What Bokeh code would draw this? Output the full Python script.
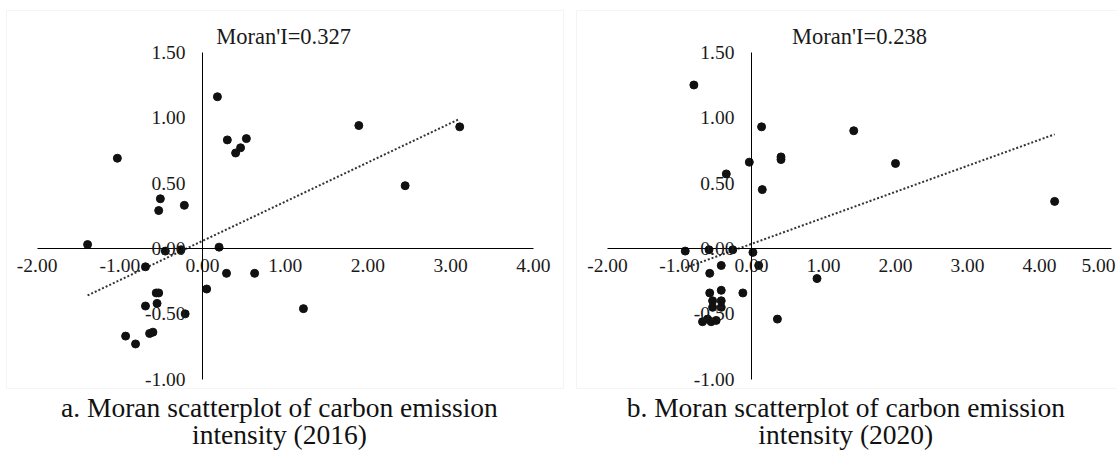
import numpy as np
from bokeh.plotting import figure
from bokeh.models import FixedTicker, PrintfTickFormatter, Label, Range1d, BoxAnnotation
from bokeh.layouts import row
from bokeh.embed import file_html
from bokeh.resources import INLINE

# ---------------- data ----------------
x_2016 = [0.18, 1.89, 3.11, 0.30, 0.53, 0.46, 0.40, -1.03, 2.45, -0.51,
          -0.53, -0.22, -1.39, 0.20, -0.45, -0.26, -0.69, 0.29, 0.63, 0.05,
          -0.56, -0.53, -0.69, -0.55, -0.21, 1.22, -0.93, -0.81, -0.64, -0.60]
y_2016 = [1.16, 0.94, 0.93, 0.83, 0.84, 0.77, 0.73, 0.69, 0.48, 0.38,
          0.29, 0.33, 0.03, 0.01, -0.02, -0.01, -0.14, -0.19, -0.19, -0.31,
          -0.34, -0.34, -0.44, -0.42, -0.50, -0.46, -0.67, -0.73, -0.65, -0.64]

x_2020 = [-0.80, 0.14, 1.42, 0.41, 0.41, -0.03, 2.00, -0.35, 0.15, 4.21,
          -0.92, -0.59, -0.26, 0.02, -0.42, 0.10, -0.58, 0.91, -0.12, -0.58,
          -0.42, -0.54, -0.42, -0.54, -0.42, 0.36, -0.68, -0.61, -0.56, -0.49]
y_2020 = [1.25, 0.93, 0.90, 0.70, 0.68, 0.66, 0.65, 0.57, 0.45, 0.36,
          -0.02, -0.01, -0.01, -0.03, -0.13, -0.13, -0.19, -0.23, -0.34, -0.34,
          -0.32, -0.40, -0.40, -0.45, -0.45, -0.54, -0.56, -0.54, -0.56, -0.55]

trend_2016 = (0.30, 0.058)   # slope, intercept
trend_2020 = (0.199, 0.035)

x_ticks_2016 = [-2, -1, 0, 1, 2, 3, 4]
x_ticks_2020 = [-2, -1, 0, 1, 2, 3, 4, 5]
y_ticks = [-1.0, -0.5, 0.0, 0.5, 1.0, 1.5]

moran_2016 = "Moran'I=0.327"
moran_2020 = "Moran'I=0.238"
caption_2016 = ["a. Moran scatterplot of carbon emission", "intensity (2016)"]
caption_2020 = ["b. Moran scatterplot of carbon emission", "intensity (2020)"]

SERIF = "Liberation Serif"
TICK_SIZE = "19.5px"
Y_RANGE = (-1.560, 1.896)      # whole canvas height, incl. caption area
BOX_Y = (-1.07, 1.82)          # chart-area border


def panel(xs, ys, trend, xticks, xr, box_x, moran, moran_x, caption, caption_x,
          width, shift_last=False):
    p = figure(width=width, height=452, frame_width=width, frame_height=452,
               x_range=Range1d(*xr), y_range=Range1d(*Y_RANGE),
               output_backend="svg", toolbar_location=None,
               min_border=0)
    p.background_fill_color = "white"
    p.border_fill_color = "white"
    p.outline_line_color = None
    p.grid.visible = False

    p.add_layout(BoxAnnotation(left=box_x[0], right=box_x[1],
                               bottom=BOX_Y[0], top=BOX_Y[1],
                               fill_color=None, fill_alpha=0,
                               line_color="#d9d9d9", line_width=1,
                               level="underlay"))

    for ax in (p.xaxis[0], p.yaxis[0]):
        ax.fixed_location = 0
        ax.axis_line_color = "black"
        ax.axis_line_width = 1
        ax.major_tick_line_color = None
        ax.minor_tick_line_color = None
        ax.major_tick_out = 0
        ax.major_tick_in = 0
        ax.major_label_text_font = SERIF
        ax.major_label_text_font_size = TICK_SIZE
        ax.major_label_text_color = "#1a1a1a"
        ax.formatter = PrintfTickFormatter(format="%.2f")
    p.xaxis[0].ticker = FixedTicker(ticks=xticks)
    p.yaxis[0].ticker = FixedTicker(ticks=y_ticks)
    p.xaxis[0].bounds = (xticks[0], xticks[-1])
    p.yaxis[0].bounds = (y_ticks[0], y_ticks[-1])
    p.xaxis[0].major_label_standoff = 11
    p.yaxis[0].major_label_standoff = 17

    if shift_last:
        p.xaxis[0].major_label_overrides = {xticks[-1]: ""}
        p.add_layout(Label(x=xticks[-1], y=0, text="%.2f" % xticks[-1],
                           text_align="right", text_baseline="top",
                           x_offset=4, y_offset=-11,
                           text_font=SERIF, text_font_size=TICK_SIZE,
                           text_color="#1a1a1a"))

    slope, icpt = trend
    tx = [min(xs), max(xs)]
    ty = [slope * v + icpt for v in tx]
    p.line(tx, ty, line_color="#333333", line_width=2, line_dash="2 2")

    p.scatter(xs, ys, size=8, fill_color="#111111", line_color="#111111")

    p.add_layout(Label(x=moran_x, y=1.62, text=moran, text_align="center",
                       text_baseline="middle", text_font=SERIF,
                       text_font_size="22.5px", text_color="#1a1a1a"))

    for i, line in enumerate(caption):
        p.add_layout(Label(x=caption_x, y=BOX_Y[0], y_offset=-19 - 27 * i,
                           text=line, text_align="center",
                           text_baseline="alphabetic", text_font=SERIF,
                           text_font_size="27.5px", text_color="#111111"))
    return p


pa = panel(x_2016, y_2016, trend_2016, x_ticks_2016, (-2.443, 4.510),
           (-2.37, 4.365), moran_2016, 0.98, caption_2016, 0.93, 575)
pb = panel(x_2020, y_2020, trend_2020, x_ticks_2020, (-2.444, 5.083),
           (-2.43, 6.0), moran_2020, 1.5, caption_2020, 1.31, 542,
           shift_last=True)

layout = row(pa, pb)
open("out.html", "w").write(file_html(layout, INLINE))
